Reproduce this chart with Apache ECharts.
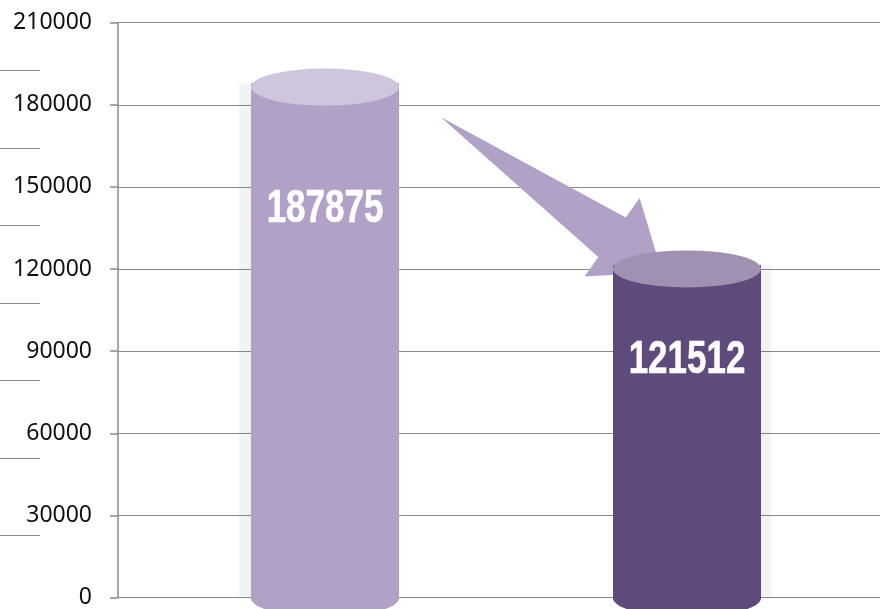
<!DOCTYPE html>
<html>
<head>
<meta charset="utf-8">
<script src="https://cdn.jsdelivr.net/npm/echarts@6/dist/echarts.min.js"></script>
<style>
  html, body { margin: 0; padding: 0; background: #fff; }
  #chart { width: 880px; height: 609px; }
</style>
</head>
<body>
<div id="chart"></div>
<script>
// data
const categories = ['A', 'B']
const values = [187875, 121512]
const bodyColors = ['#B1A1C7', '#5F4B7B']
const topColors = ['#CFC5DD', '#A091B0']

const yMin = 0
const yMax = 210000
const yStep = 30000

// label drop below the bar top, px
const labelDrop = [126, 95]

const chart = echarts.init(document.getElementById('chart'))

const gridLine = { color: '#8a8a8a', width: 1.2 }

// arrow from bar 1 top to bar 2 top
const renderArrow = (params, api) => {
  const a = api.coord([api.value(0), api.value(1)])
  const b = api.coord([api.value(2), api.value(3)])
  const tail = [a[0] + 116, a[1] + 34]
  const tip = [b[0] - 25, b[1] + 7]
  const dx = tip[0] - tail[0]
  const dy = tip[1] - tail[1]
  const len = Math.sqrt(dx * dx + dy * dy)
  const ux = dx / len, uy = dy / len
  const nx = -uy, ny = ux
  const headLen = 61
  const base = [tip[0] - ux * headLen, tip[1] - uy * headLen]
  const p = (w) => [base[0] + nx * w, base[1] + ny * w]
  return {
    type: 'polygon',
    shape: { points: [tail, p(-24), p(-48), tip, p(48), p(24)] },
    style: { fill: bodyColors[0] }
  }
}

// condensed white value labels
const renderLabel = (params, api) => {
  const pt = api.coord([api.value(0), api.value(1)])
  return {
    type: 'text',
    x: pt[0],
    y: pt[1] + labelDrop[params.dataIndex],
    scaleX: 0.76,
    style: {
      text: String(api.value(1)),
      fill: '#fff',
      stroke: '#fff',
      lineWidth: 0.6,
      font: 'bold 46px "Liberation Sans", Arial, sans-serif',
      align: 'center',
      verticalAlign: 'middle'
    }
  }
}

const option = {
  animation: false,
  grid: [
    { left: 118, right: 0, top: 22.7, bottom: 10.7 },
    { left: 144, right: 12, top: 22.7, bottom: 10.7 },
    { left: 0, width: 40, top: 70.7, bottom: 73.3 }
  ],
  xAxis: [
    { type: 'category', gridIndex: 0, data: categories, show: false },
    { type: 'category', gridIndex: 1, data: categories, show: false },
    { type: 'value', gridIndex: 2, show: false, min: 0, max: 1 }
  ],
  yAxis: [
    {
      type: 'value', gridIndex: 0, min: yMin, max: yMax, interval: yStep,
      axisLine: { show: true, lineStyle: { color: '#8a8a8a', width: 1.5 } },
      axisTick: { show: true, length: 8, lineStyle: { color: '#8a8a8a', width: 1.5 } },
      axisLabel: {
        margin: 26, color: '#111', fontSize: 23, fontFamily: 'Noto Sans',
        formatter: (v) => String(v)
      },
      splitLine: { show: true, lineStyle: gridLine }
    },
    { type: 'value', gridIndex: 1, min: yMin, max: yMax, interval: yStep, show: false },
    {
      type: 'value', gridIndex: 2, min: 0, max: 6, interval: 1,
      axisLine: { show: false }, axisTick: { show: false }, axisLabel: { show: false },
      splitLine: { show: true, lineStyle: gridLine }
    }
  ],
  series: [
    {
      type: 'custom',
      xAxisIndex: 1,
      yAxisIndex: 1,
      z: 1,
      renderItem: renderArrow,
      encode: { x: [0, 2], y: [1, 3] },
      data: [[0, values[0], 1, values[1]]]
    },
    {
      type: 'bar',
      xAxisIndex: 1,
      yAxisIndex: 1,
      z: 2,
      barWidth: 148,
      data: values.map((v, i) => ({
        value: v,
        itemStyle: {
          color: bodyColors[i],
          shadowColor: 'rgba(0,0,0,0.05)',
          shadowBlur: 3,
          shadowOffsetX: i === 0 ? -12 : 10
        }
      }))
    },
    {
      type: 'pictorialBar',
      xAxisIndex: 1,
      yAxisIndex: 1,
      z: 3,
      barWidth: 148,
      barGap: '-100%',
      symbol: 'circle',
      symbolSize: [148, 37],
      symbolPosition: 'start',
      symbolOffset: [0, '50%'],
      data: values.map((v, i) => ({ value: v, itemStyle: { color: bodyColors[i] } }))
    },
    {
      type: 'pictorialBar',
      xAxisIndex: 1,
      yAxisIndex: 1,
      z: 3,
      barWidth: 148,
      barGap: '-100%',
      symbol: 'circle',
      symbolSize: [148, 37],
      symbolPosition: 'end',
      symbolOffset: [0, '-40%'],
      data: values.map((v, i) => ({ value: v, itemStyle: { color: topColors[i] } }))
    },
    {
      type: 'custom',
      xAxisIndex: 1,
      yAxisIndex: 1,
      z: 4,
      renderItem: renderLabel,
      data: values.map((v, i) => [i, v])
    }
  ]
}

chart.setOption(option)
</script>
</body>
</html>
